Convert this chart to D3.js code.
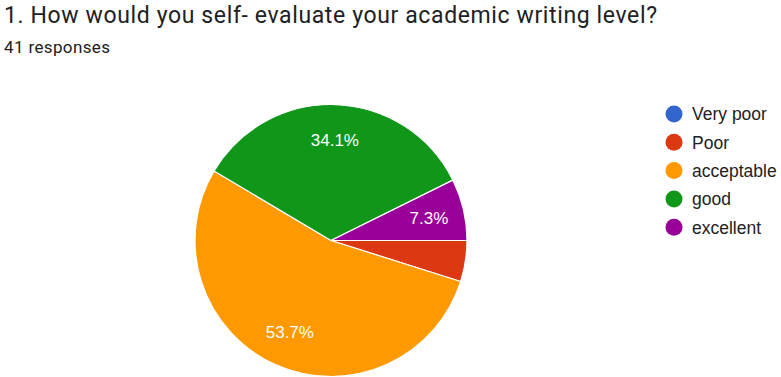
<!DOCTYPE html>
<html>
<head>
<meta charset="utf-8">
<script src="https://cdn.jsdelivr.net/npm/d3@7"></script>
<style>
  body { margin: 0; background: #fff; }
  svg { font-family: Roboto, Arial, sans-serif; }
</style>
</head>
<body>
<svg id="chart" width="781" height="377"></svg>
<script>
// Answers and counts (41 responses)
const categories = ["Very poor", "Poor", "acceptable", "good", "excellent"];
const counts = [0, 2, 22, 14, 3];
const colors = ["#3366cc", "#dc3912", "#ff9900", "#109618", "#990099"];

const radius = 136;
const cx = 331, cy = 240.5;

const svg = d3.select("#chart");

svg.append("text")
  .attr("x", 4)
  .attr("y", 23)
  .attr("font-size", 23)
  .attr("fill", "#202124")
  .attr("textLength", 653)
  .text("1. How would you self- evaluate your academic writing level?");

svg.append("text")
  .attr("x", 4)
  .attr("y", 52.5)
  .attr("font-size", 17)
  .attr("fill", "#202124")
  .attr("textLength", 106)
  .text(d3.sum(counts) + " responses");

const data = categories.map((c, i) => ({ name: c, value: counts[i], color: colors[i] }));
const total = d3.sum(counts);

// start at 3 o'clock and go clockwise
const pie = d3.pie()
  .value(d => d.value)
  .sort(null)
  .startAngle(Math.PI / 2)
  .endAngle(Math.PI / 2 + 2 * Math.PI);

const arc = d3.arc().innerRadius(0).outerRadius(radius);
const labelArc = d3.arc().innerRadius(radius * 0.74).outerRadius(radius * 0.74);

const g = svg.append("g").attr("transform", "translate(" + cx + "," + cy + ")");

const arcs = pie(data).filter(d => d.data.value > 0);

g.selectAll("path")
  .data(arcs)
  .enter()
  .append("path")
  .attr("d", arc)
  .attr("fill", d => d.data.color)
  .attr("stroke", "#fff")
  .attr("stroke-width", 1.2);

g.selectAll(".lbl")
  .data(arcs.filter(d => d.data.value / total > 0.05))
  .enter()
  .append("text")
  .attr("class", "lbl")
  .attr("transform", d => "translate(" + labelArc.centroid(d) + ")")
  .attr("text-anchor", "middle")
  .attr("dy", "0.36em")
  .attr("font-family", "Arial, 'Liberation Sans', sans-serif")
  .attr("font-size", 17)
  .attr("fill", "#fff")
  .text(d => (d.data.value / total * 100).toFixed(1) + "%");

// legend
const legend = svg.append("g").attr("transform", "translate(674,114)");
const row = legend.selectAll(".row")
  .data(data)
  .enter()
  .append("g")
  .attr("class", "row")
  .attr("transform", (d, i) => "translate(0," + i * 28.3 + ")");

row.append("circle")
  .attr("r", 8.5)
  .attr("fill", d => d.color);

row.append("text")
  .attr("x", 18)
  .attr("dy", "0.36em")
  .attr("font-family", "Arial, 'Liberation Sans', sans-serif")
  .attr("font-size", 17.5)
  .attr("fill", "#222")
  .text(d => d.name);
</script>
</body>
</html>
